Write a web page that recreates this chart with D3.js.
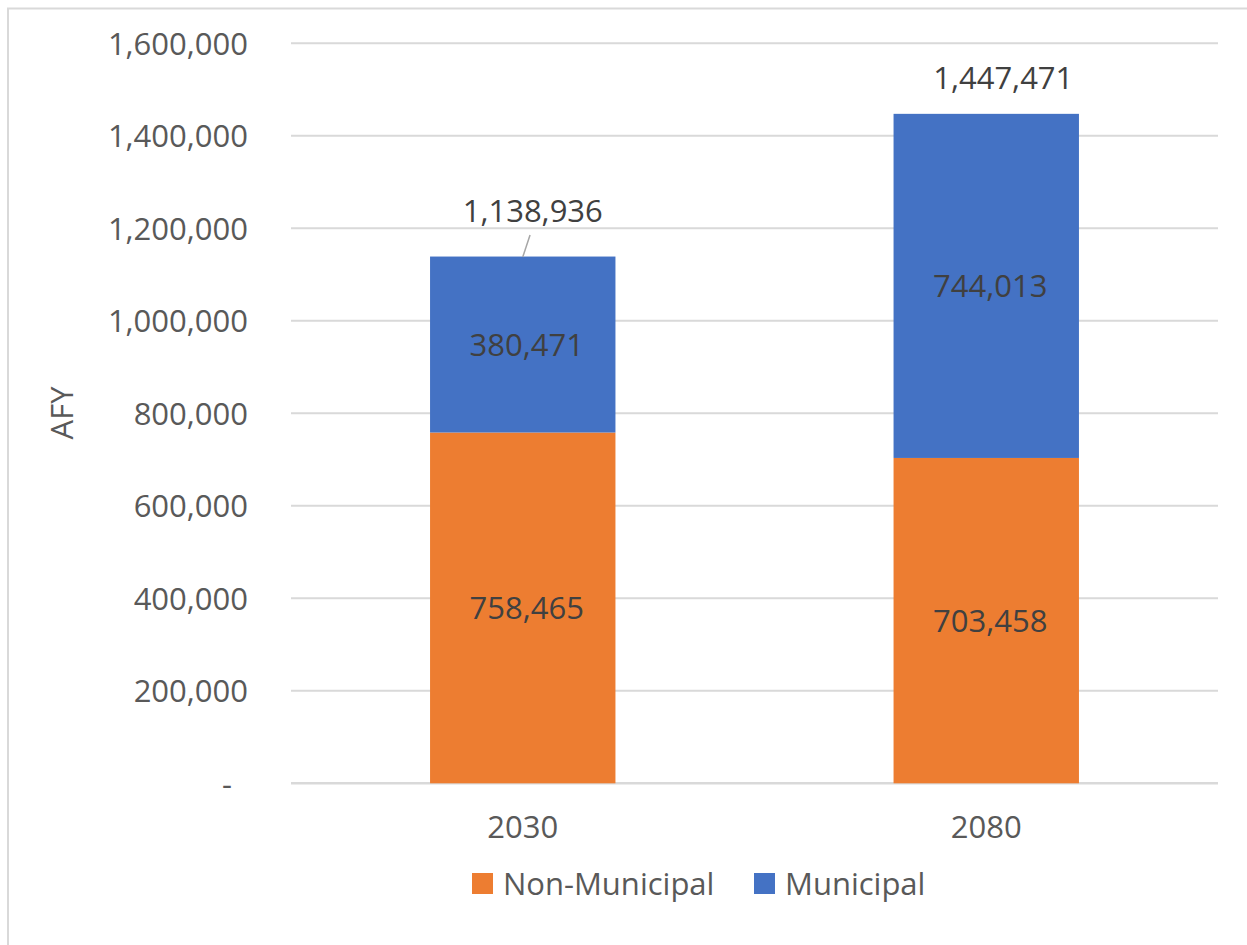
<!DOCTYPE html>
<html>
<head>
<meta charset="utf-8">
<script src="https://cdn.jsdelivr.net/npm/d3@7"></script>
<style>
  html, body { margin: 0; padding: 0; background: #ffffff; }
  svg { display: block; }
  text { font-family: "Open Sans", "Noto Sans", sans-serif; }
</style>
</head>
<body>
<svg id="chart" width="1247" height="945"></svg>
<script>
// ---- data ----
const categories = ["2030", "2080"];
const seriesNames = ["Non-Municipal", "Municipal"];
const nonMunicipal = [758465, 703458];
const municipal = [380471, 744013];
const yTicks = [0, 200000, 400000, 600000, 800000, 1000000, 1200000, 1400000, 1600000];
const yLabel = "AFY";

// ---- style / layout ----
const W = 1247, H = 945;
const colors = { "Non-Municipal": "#ED7D31", "Municipal": "#4472C4" };
const plot = { left: 291, right: 1218, top: 43.3, bottom: 783.3 };
const fontSize = 31;
const axisColor = "#595959";
const labelColor = "#404040";
const gridColor = "#D9D9D9";
// manual nudges of the total labels (dx from bar centre, dy of baseline from bar top)
const totalNudge = [{ dx: 10, dy: -35, leader: true }, { dx: 17, dy: -24.5, leader: false }];

const svg = d3.select("#chart");
svg.append("rect").attr("width", W).attr("height", H).attr("fill", "#fff");
// chart area border (only top and left visible in the reference)
svg.append("rect").attr("x", 8).attr("y", 8.5).attr("width", W + 20).attr("height", H + 20)
  .attr("fill", "none").attr("stroke", gridColor).attr("stroke-width", 2);

const x = d3.scaleBand().domain(categories).range([plot.left, plot.right])
  .paddingInner(0.6).paddingOuter(0.3);
const y = d3.scaleLinear().domain([0, 1600000]).range([plot.bottom, plot.top]);

// gridlines
svg.append("g").selectAll("line").data(yTicks).join("line")
  .attr("x1", plot.left).attr("x2", plot.right)
  .attr("y1", d => y(d)).attr("y2", d => y(d))
  .attr("stroke", gridColor).attr("stroke-width", d => d === 0 ? 2.5 : 2);

// y axis labels
const yAxis = d3.axisLeft(y).tickValues(yTicks).tickSize(0).tickPadding(0)
  .tickFormat(d => d === 0 ? "-" : d3.format(",")(d));
const yg = svg.append("g").attr("transform", `translate(248,0)`).call(yAxis);
yg.select(".domain").remove();
yg.selectAll("text")
  .attr("font-size", fontSize).attr("fill", axisColor)
  .attr("font-family", "'Open Sans', sans-serif")
  .attr("dy", "0.36em")
  .attr("dx", d => d === 0 ? -16 : 0);

// y axis title
svg.append("text").attr("transform", "translate(73,413) rotate(-90)")
  .attr("text-anchor", "middle").attr("font-size", fontSize).attr("fill", axisColor)
  .text(yLabel);

// x axis labels
const xAxis = d3.axisBottom(x).tickSize(0).tickPadding(0);
const xg = svg.append("g").attr("transform", `translate(0,838)`).call(xAxis);
xg.select(".domain").remove();
xg.selectAll("text").attr("font-size", fontSize).attr("fill", axisColor)
  .attr("font-family", "'Open Sans', sans-serif").attr("dy", 0);

// stacked bars
const rows = categories.map((c, i) => ({ cat: c, "Non-Municipal": nonMunicipal[i], "Municipal": municipal[i] }));
const stack = d3.stack().keys(seriesNames)(rows);

const layers = svg.append("g").selectAll("g").data(stack).join("g")
  .attr("fill", d => colors[d.key]);
layers.selectAll("rect").data(d => d).join("rect")
  .attr("x", d => x(d.data.cat)).attr("width", x.bandwidth())
  .attr("y", d => y(d[1])).attr("height", d => y(d[0]) - y(d[1]));

// segment labels
const segLabels = svg.append("g");
stack.forEach(layer => {
  layer.forEach(d => {
    segLabels.append("text")
      .attr("x", x(d.data.cat) + x.bandwidth() / 2 + 4)
      .attr("y", (y(d[0]) + y(d[1])) / 2 + 11)
      .attr("text-anchor", "middle").attr("font-size", fontSize).attr("fill", labelColor)
      .text(d3.format(",")(d[1] - d[0]));
  });
});

// total labels
const totals = categories.map((c, i) => nonMunicipal[i] + municipal[i]);
categories.forEach((c, i) => {
  const cx = x(c) + x.bandwidth() / 2;
  const top = y(totals[i]);
  const n = totalNudge[i];
  svg.append("text")
    .attr("x", cx + n.dx).attr("y", top + n.dy)
    .attr("text-anchor", "middle").attr("font-size", fontSize).attr("fill", labelColor)
    .text(d3.format(",")(totals[i]));
  if (n.leader) {
    svg.append("line")
      .attr("x1", cx + n.dx - 2.7).attr("y1", top + n.dy + 13.5)
      .attr("x2", cx).attr("y2", top + 0.5)
      .attr("stroke", "#A6A6A6").attr("stroke-width", 1.5);
  }
});

// legend
const legendItems = [
  { name: "Non-Municipal", x: 472 },
  { name: "Municipal", x: 754 }
];
const lg = svg.append("g");
legendItems.forEach(it => {
  lg.append("rect").attr("x", it.x).attr("y", 873).attr("width", 21).attr("height", 21)
    .attr("fill", colors[it.name]);
  lg.append("text").attr("x", it.x + 31).attr("y", 895)
    .attr("font-size", fontSize).attr("fill", axisColor).text(it.name);
});
</script>
</body>
</html>
